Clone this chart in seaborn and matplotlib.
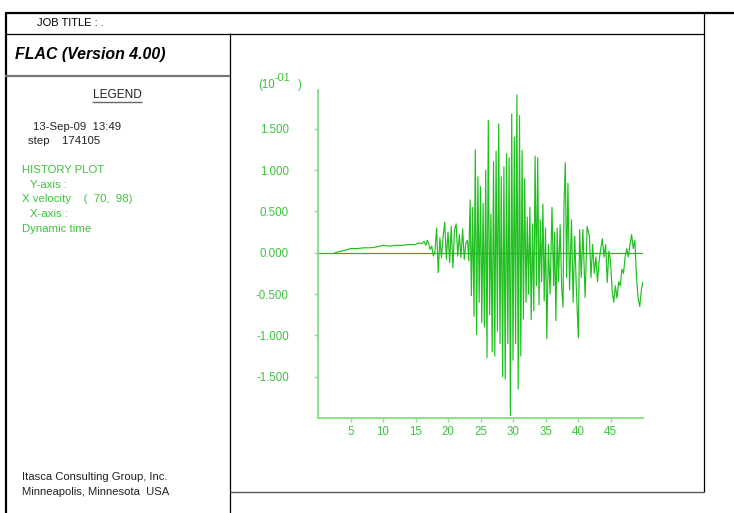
import numpy as np
import pandas as pd
import matplotlib
matplotlib.use("Agg")
import matplotlib.pyplot as plt
from matplotlib.lines import Line2D
import seaborn as sns

# ---------------- data (X velocity, units of 1e-1) ----------------
ramp_time = [2.6, 3.5, 4.2, 5.0, 6.0, 7.0, 8.0, 9.0, 10.0, 11.0, 12.0, 13.0,
             14.0, 15.0, 15.5, 16.0, 16.3, 16.6, 16.8]
ramp_vel = [0.00, 0.02, 0.03, 0.05, 0.05, 0.06, 0.06, 0.07, 0.09, 0.08, 0.09, 0.09,
            0.10, 0.10, 0.12, 0.11, 0.14, 0.09, 0.15]

early_time = [17.00, 17.25, 17.50, 17.75, 18.00, 18.25, 18.50, 18.75, 19.00, 19.25,
              19.50, 19.75, 20.00, 20.25, 20.50, 20.75, 21.00, 21.25, 21.50, 21.75,
              22.00, 22.25, 22.50, 22.75]
early_vel = [0.12, 0.04, 0.08, -0.04, 0.02, 0.30, -0.24, 0.18, -0.06, 0.20,
             0.37, -0.08, 0.25, -0.12, 0.32, -0.18, 0.28, 0.35, -0.04, 0.22,
             -0.06, 0.29, -0.08, 0.12]

main_time = [23.0, 23.2, 23.4, 23.6, 23.8, 24.0, 24.2, 24.4, 24.6, 24.8,
             25.0, 25.2, 25.4, 25.6, 25.8, 26.0, 26.2, 26.4, 26.6, 26.8,
             27.0, 27.2, 27.4, 27.6, 27.8, 28.0, 28.2, 28.4, 28.6, 28.8,
             29.0, 29.2, 29.4, 29.6, 29.8, 30.0, 30.2, 30.4, 30.6, 30.8,
             31.0, 31.2, 31.4, 31.6, 31.8, 32.0, 32.2, 32.4, 32.6, 32.8,
             33.0, 33.2, 33.4, 33.6, 33.8, 34.0, 34.2, 34.4, 34.6, 34.8,
             35.0]
main_vel = [0.15, -0.10, 0.64, -0.52, 0.55, -0.77, 1.25, -0.99, 0.92, -0.60,
            0.80, -0.85, 0.60, -0.90, 1.00, -1.27, 1.60, -0.75, 0.47, -1.20,
            1.10, -1.25, 1.23, -0.95, 1.56, -1.10, 0.92, -1.50, 1.04, -1.53,
            1.20, -1.10, 1.15, -1.97, 1.68, -1.30, 1.40, -1.10, 1.91, -1.65,
            1.66, -1.25, 1.24, -0.80, 0.90, -0.60, 0.43, -0.50, 0.55, -0.81,
            0.35, -0.70, 1.17, -0.40, 1.15, -0.63, 0.40, -0.35, 0.59, -0.58,
            0.30]

late_time = [35.20, 35.45, 35.70, 36.00, 36.25, 36.40, 36.60, 36.80, 37.00, 37.25,
             37.50, 37.70, 37.85, 38.05, 38.25, 38.45, 38.70, 39.00, 39.25, 39.50,
             39.75, 40.05, 40.25, 40.50, 40.75, 41.10, 41.40, 41.75, 42.00, 42.25,
             42.50, 42.75, 43.00, 43.25, 43.50, 43.75, 44.00, 44.25, 44.50, 44.75,
             45.00, 45.25, 45.50, 45.75, 46.00, 46.25, 46.50, 46.75, 47.00, 47.25,
             47.50, 47.75, 48.00, 48.25, 48.50, 48.75, 49.00, 49.25, 49.50, 49.75,
             50.00]
late_vel = [-1.04, 0.10, -0.50, 0.55, -0.40, 0.25, -0.82, 0.30, -0.35, 0.34,
            -0.45, -0.66, 0.60, 1.09, -0.30, 0.84, -0.45, 0.40, -0.60, 0.20,
            -0.45, -1.03, 0.28, -0.30, 0.28, -0.54, 0.32, 0.20, -0.30, 0.10,
            -0.25, -0.05, -0.35, -0.10, 0.05, 0.17, -0.05, 0.10, -0.36, 0.02,
            -0.10, -0.45, -0.60, -0.40, -0.55, -0.35, -0.40, -0.20, -0.25, -0.05,
            0.05, -0.05, 0.10, 0.22, 0.05, 0.15, -0.30, -0.55, -0.65, -0.45,
            -0.35]

x_ticks = [5, 10, 15, 20, 25, 30, 35, 40, 45]
y_ticks = [-1.5, -1.0, -0.5, 0.0, 0.5, 1.0, 1.5]

df = pd.DataFrame({"time": ramp_time + early_time + main_time + late_time,
                   "vel": ramp_vel + early_vel + main_vel + late_vel})

# ---------------- figure ----------------
sns.set_theme(style="white")
plt.rcParams["font.family"] = ["Liberation Sans", "DejaVu Sans"]

W, H = 734, 513
fig = plt.figure(figsize=(W / 100, H / 100), dpi=100)

def fx(px):
    return px / W

def fy(py):
    return 1 - py / H

def hline(x0, x1, y, color="black", lw=1.0):
    fig.add_artist(Line2D([fx(x0), fx(x1)], [fy(y), fy(y)], color=color, lw=lw,
                          transform=fig.transFigure, solid_capstyle="butt"))

def vline(x, y0, y1, color="black", lw=1.0):
    fig.add_artist(Line2D([fx(x), fx(x)], [fy(y0), fy(y1)], color=color, lw=lw,
                          transform=fig.transFigure, solid_capstyle="butt"))

GREEN_TXT = "#3cc43c"
AXIS_GREEN = "#8ee08e"
LINE_GREEN = "#1fbf1f"

# frame lines
hline(5, 734, 13, lw=1.6)
vline(5.5, 13, 513, lw=1.6)
hline(5, 704, 33.5, lw=0.9)
vline(704, 13, 492, lw=0.9)
vline(230, 33, 513, lw=0.9)
hline(5, 230, 75.5, color="#777777", lw=1.6)
hline(230, 704, 492, color="#555555", lw=1.0)

# header / legend texts
fig.text(fx(37), fy(23), "JOB TITLE : .", fontsize=8.0, color="black", va="center", ha="left")
fig.text(fx(15), fy(54), "FLAC (Version 4.00)", fontsize=11.4, fontweight="bold",
         fontstyle="italic", color="black", va="center", ha="left")
fig.text(fx(117), fy(95), "LEGEND", fontsize=8.6, color="#222222", va="center", ha="center")
hline(92, 142, 102, color="#666666", lw=1.0)
fig.text(fx(33), fy(127), "13-Sep-09  13:49", fontsize=8.2, color="#222222", va="center", ha="left")
fig.text(fx(28), fy(141), "step    174105", fontsize=8.2, color="#222222", va="center", ha="left")
legend_lines = [(22, 170, "HISTORY PLOT"), (30, 185, "Y-axis :"),
                (22, 199, "X velocity    (  70,  98)"), (30, 214, "X-axis :"),
                (22, 229, "Dynamic time")]
for x, y, s in legend_lines:
    fig.text(fx(x), fy(y), s, fontsize=8.2, color=GREEN_TXT, va="center", ha="left")
fig.text(fx(22), fy(477), "Itasca Consulting Group, Inc.", fontsize=8.1, color="#222222",
         va="center", ha="left")
fig.text(fx(22), fy(492), "Minneapolis, Minnesota  USA", fontsize=8.1, color="#222222",
         va="center", ha="left")

# plot axes
ax_left, ax_right, ax_top, ax_bottom = 318, 643, 90, 418
ax = fig.add_axes([fx(ax_left), fy(ax_bottom), fx(ax_right - ax_left), (ax_bottom - ax_top) / H])
ax.set_facecolor("none")
sns.lineplot(data=df, x="time", y="vel", ax=ax, color=LINE_GREEN, lw=0.85,
             estimator=None, sort=False)
ax.axhline(0.0, color="#2db42d", lw=0.9)
ax.set_xlim(0, 50)
ax.set_ylim(-2.0, 1.97)
ax.set_xticks(x_ticks)
ax.set_xticklabels([str(v) for v in x_ticks])
ax.set_yticks(y_ticks)
ax.set_yticklabels([f"{v:.3f}" for v in y_ticks])
ax.set_xlabel("")
ax.set_ylabel("")
for side in ["top", "right"]:
    ax.spines[side].set_visible(False)
for side in ["left", "bottom"]:
    ax.spines[side].set_color(AXIS_GREEN)
    ax.spines[side].set_linewidth(1.4)
ax.tick_params(axis="both", colors=AXIS_GREEN, labelcolor=GREEN_TXT, labelsize=8.3,
               length=3, width=1.0, direction="out", bottom=True, left=True)
ax.tick_params(axis="y", pad=18)
ax.tick_params(axis="x", pad=3)
ax.grid(False)

# exponent label (10^-01 )
fig.text(fx(258), fy(85), "(10", fontsize=8.3, color=GREEN_TXT, va="center", ha="left")
fig.text(fx(275), fy(78), "-01", fontsize=7.8, color=GREEN_TXT, va="center", ha="left")
fig.text(fx(298), fy(85), ")", fontsize=8.3, color=GREEN_TXT, va="center", ha="left")

fig.savefig("out.png", dpi=100, facecolor="white")
